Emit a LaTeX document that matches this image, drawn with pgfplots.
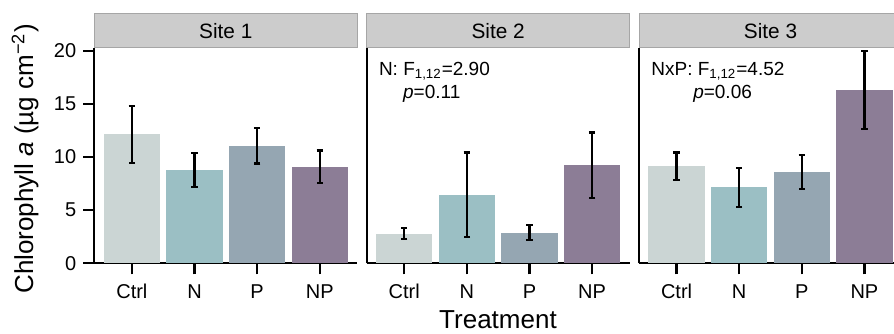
\documentclass[border=0pt]{standalone}
\usepackage{fontspec}
\setmainfont{Liberation Sans}
\usepackage{pgfplots}
\pgfplotsset{compat=1.18}

\definecolor{cCtrl}{HTML}{CBD5D4}
\definecolor{cN}{HTML}{9BBFC4}
\definecolor{cP}{HTML}{95A6B2}
\definecolor{cNP}{HTML}{8C7D96}
\definecolor{stripfill}{HTML}{CCCCCC}
\definecolor{stripline}{HTML}{A6A6A6}

\tikzset{annot/.style={anchor=base west, inner sep=0pt,
  font=\fontsize{9.5}{11}\selectfont}}

\pgfplotsset{
  facet/.style={
    scale only axis,
    width=131.5pt, height=107.9pt,
    xmin=0.4, xmax=4.6, ymin=0, ymax=20.32,
    axis lines*=left,
    axis line style={line width=1.1pt, black},
    every tick/.style={line width=1.1pt, black},
    tick align=outside,
    major tick length=5.5pt,
    xtick={1,2,3,4},
    xticklabels={Ctrl,N,P,NP},
    ticklabel style={font=\fontsize{10}{12}\selectfont},
    xticklabel style={yshift=-1.5pt},
    /pgf/number format/assume math mode=true,
    clip=false,
  },
  bar/.style={ybar, bar width=0.9, bar shift=0pt, draw=none, fill=#1,
    error bars/.cd, y dir=both, y explicit,
    error bar style={line width=1.1pt, black},
    error mark options={rotate=90, mark size=1.6pt, line width=1.1pt, black}},
}

% strip header with facet title
\newcommand{\strip}[1]{%
  \draw[fill=stripfill, draw=stripline, line width=0.3pt]
    (rel axis cs:0,1) rectangle ([yshift=17.3pt]rel axis cs:1,1);
  \node[anchor=base, inner sep=0pt, font=\fontsize{10.4}{12}\selectfont]
    at ([yshift=4.5pt]rel axis cs:0.5,1) {#1};
}

\begin{document}
\begin{tikzpicture}

% Site 1
\begin{axis}[facet, at={(47.15pt,-131.65pt)}, anchor=south west,
  ytick={0,5,10,15,20}]
  \addplot[bar=cCtrl] coordinates {(1,12.15) +- (0,2.67)};
  \addplot[bar=cN]    coordinates {(2,8.80)  +- (0,1.60)};
  \addplot[bar=cP]    coordinates {(3,11.06) +- (0,1.66)};
  \addplot[bar=cNP]   coordinates {(4,9.09)  +- (0,1.54)};
  \strip{Site 1}
\end{axis}

% Site 2
\begin{axis}[facet, at={(183.35pt,-131.65pt)}, anchor=south west,
  ytick=\empty]
  \addplot[bar=cCtrl] coordinates {(1,2.78) +- (0,0.52)};
  \addplot[bar=cN]    coordinates {(2,6.45) +- (0,3.98)};
  \addplot[bar=cP]    coordinates {(3,2.88) +- (0,0.71)};
  \addplot[bar=cNP]   coordinates {(4,9.22) +- (0,3.10)};
  \strip{Site 2}
  \node[annot] at (axis cs:0.59,17.65) {N: F\textsubscript{1,12}=2.90};
  \node[annot] at (axis cs:0.975,15.52) {\textit{p}=0.11};
\end{axis}

% Site 3
\begin{axis}[facet, at={(319.5pt,-131.65pt)}, anchor=south west,
  ytick=\empty]
  \addplot[bar=cCtrl] coordinates {(1,9.15)  +- (0,1.28)};
  \addplot[bar=cN]    coordinates {(2,7.15)  +- (0,1.86)};
  \addplot[bar=cP]    coordinates {(3,8.62)  +- (0,1.60)};
  \addplot[bar=cNP]   coordinates {(4,16.33) +- (0,3.68)};
  \strip{Site 3}
  \node[annot] at (axis cs:0.592,17.65) {NxP: F\textsubscript{1,12}=4.52};
  \node[annot] at (axis cs:1.26,15.52) {\textit{p}=0.06};
\end{axis}

% shared axis titles
\node[anchor=base, inner sep=0pt, font=\fontsize{13}{15}\selectfont]
  at (249pt,-164.3pt) {Treatment};
\node[anchor=base, rotate=90, inner sep=0pt, font=\fontsize{13}{15}\selectfont]
  at (16.5pt,-79.5pt) {Chlorophyll \textit{a} (µg cm\textsuperscript{−2})};

\pgfresetboundingbox
\path[use as bounding box] (0pt,0pt) rectangle (447pt,-166.5pt);
\end{tikzpicture}
\end{document}
